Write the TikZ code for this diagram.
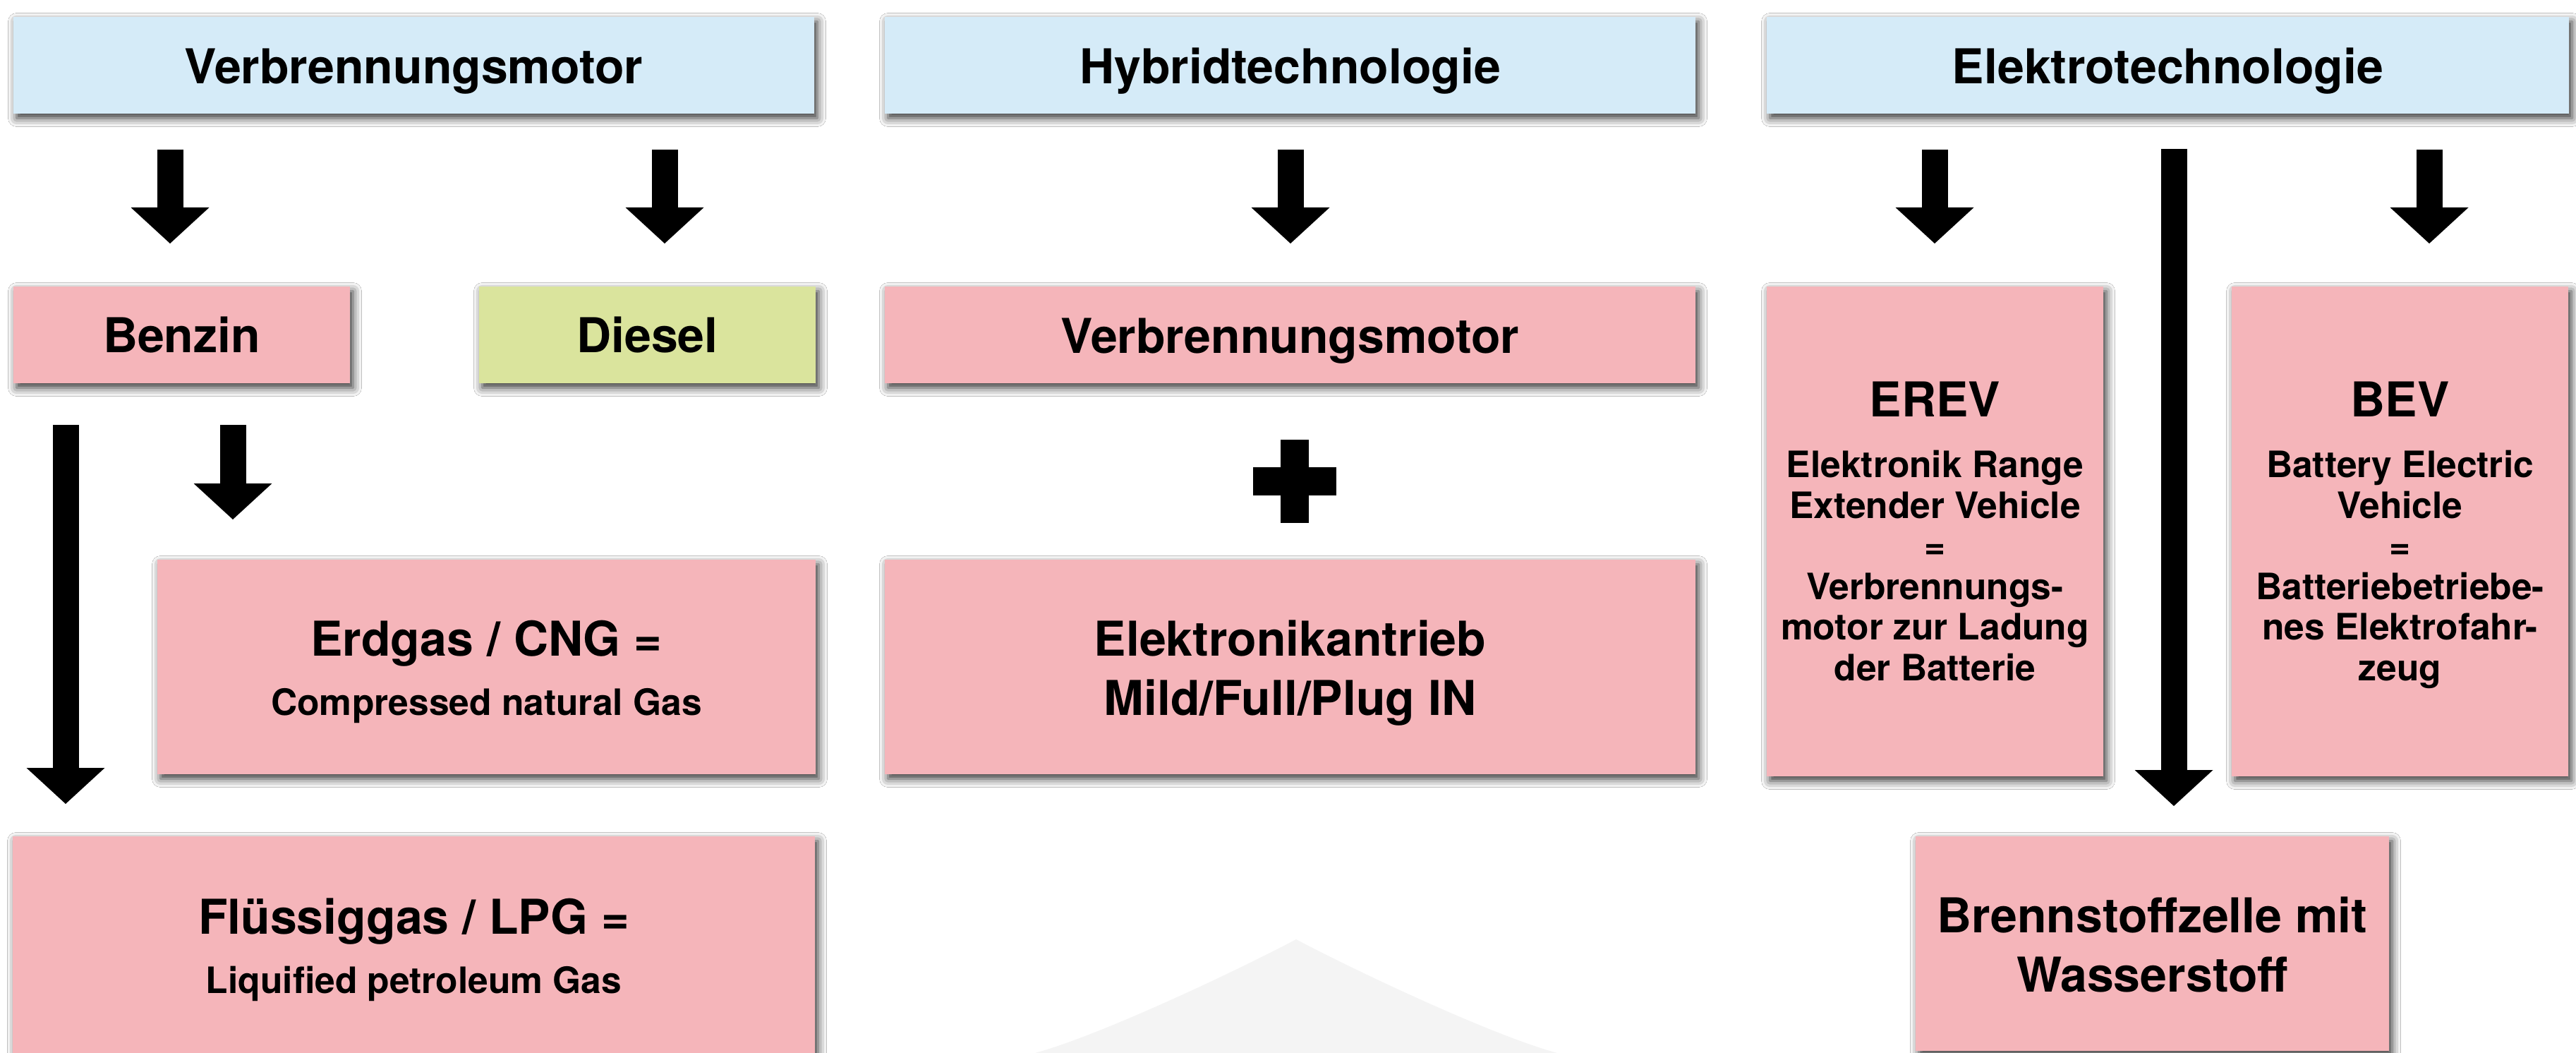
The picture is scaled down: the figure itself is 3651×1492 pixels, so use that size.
\documentclass[tikz,border=0pt]{standalone}
\usepackage{fontspec}
\setmainfont{TeX Gyre Heros}
\usetikzlibrary{arrows.meta,shadows.blur}
\definecolor{hdrblue}{RGB}{213,235,248}
\definecolor{boxpink}{RGB}{245,181,186}
\definecolor{boxgreen}{RGB}{218,228,157}
\definecolor{archgray}{RGB}{244,244,244}
\tikzset{
  box/.style={draw=none, fill=#1, inner sep=0pt, outer sep=0pt,
    blur shadow={shadow xshift=0.9pt, shadow yshift=-1.3pt, shadow blur radius=2.4pt, shadow opacity=80}},
  bigtext/.style={anchor=base, inner sep=0pt, font=\bfseries\fontsize{13.6pt}{16pt}\selectfont},
  smalltext/.style={anchor=base, inner sep=0pt, font=\bfseries\fontsize{10.3pt}{12pt}\selectfont},
  blockarrow/.style={line width=7.4pt, line cap=butt,
    -{Triangle[width=22.2pt,length=10.2pt,line width=0pt]}},
}
\begin{document}
\begin{tikzpicture}[x=0.2pt,y=-0.2pt]
\useasboundingbox (0,0) rectangle (3651,1492);
\fill[white] (0,0) rectangle (3651,1492);
% faint background arch
\fill[archgray] (1467,1492) .. controls (1560,1467) and (1760,1372) .. (1837,1331)
  .. controls (1914,1372) and (2114,1467) .. (2207,1492) -- cycle;

% boxes
\node[box=hdrblue, minimum width=227pt, minimum height=27.4pt] (hdr1) at (586.5,92.5) {};
\node[box=hdrblue, minimum width=229.8pt, minimum height=27.4pt] (hdr2) at (1828.5,92.5) {};
\node[box=hdrblue, minimum width=227.4pt, minimum height=27.4pt] (hdr3) at (3072.5,92.5) {};
\node[box=boxpink, minimum width=95.4pt, minimum height=27.4pt] (benzin) at (257.5,474.5) {};
\node[box=boxgreen, minimum width=95.4pt, minimum height=27.4pt] (diesel) at (917.5,474.5) {};
\node[box=boxpink, minimum width=229.8pt, minimum height=27.4pt] (hvm) at (1828.5,474.5) {};
\node[box=boxpink, minimum width=186.6pt, minimum height=60.8pt] (erdgas) at (689.5,945) {};
\node[box=boxpink, minimum width=229.8pt, minimum height=60.8pt] (eantrieb) at (1828.5,945) {};
\node[box=boxpink, minimum width=95.4pt, minimum height=138.8pt] (erev) at (2742.5,753) {};
\node[box=boxpink, minimum width=95.4pt, minimum height=138.8pt] (bev) at (3401.5,753) {};
\node[box=boxpink, minimum width=227.4pt, minimum height=61.4pt] (lpg) at (586.5,1338.5) {};
\node[box=boxpink, minimum width=134.2pt, minimum height=60.8pt] (brenn) at (3050.5,1337) {};

% texts
\node[bigtext] (th1) at (586.5,119) {Verbrennungsmotor};
\node[bigtext] (th2) at (1828.5,119) {Hybridtechnologie};
\node[bigtext] (th3) at (3072.5,119) {Elektrotechnologie};
\node[bigtext] (tbenzin) at (257.5,499) {Benzin};
\node[bigtext] (tdiesel) at (917.5,499) {Diesel};
\node[bigtext] (thvm) at (1828.5,500) {Verbrennungsmotor};
\node[bigtext] (terd1) at (689.5,929) {Erdgas / CNG =};
\node[smalltext] (terd2) at (689.5,1013) {Compressed natural Gas};
\node[bigtext] (tea1) at (1828.5,929) {Elektronikantrieb};
\node[bigtext] (tea2) at (1828.5,1013) {Mild/Full/Plug IN};
\node[bigtext] (tlpg1) at (586.5,1323) {Flüssiggas / LPG =};
\node[smalltext] (tlpg2) at (586.5,1407) {Liquified petroleum Gas};
\node[bigtext] (tbr1) at (3050.5,1321) {Brennstoffzelle mit};
\node[bigtext] (tbr2) at (3050.5,1405) {Wasserstoff};

\node[bigtext] (terev0) at (2742.5,590) {EREV};
\node[smalltext] (terev1) at (2742.5,676) {Elektronik Range};
\node[smalltext] (terev2) at (2742.5,734) {Extender Vehicle};
\node[smalltext] (terev3) at (2742.5,791) {=};
\node[smalltext] (terev4) at (2742.5,849) {Verbrennungs-};
\node[smalltext] (terev5) at (2742.5,906) {motor zur Ladung};
\node[smalltext] (terev6) at (2742.5,964) {der Batterie};

\node[bigtext] (tbev0) at (3401.5,590) {BEV};
\node[smalltext] (tbev1) at (3401.5,676) {Battery Electric};
\node[smalltext] (tbev2) at (3401.5,734) {Vehicle};
\node[smalltext] (tbev3) at (3401.5,791) {=};
\node[smalltext] (tbev4) at (3401.5,849) {Batteriebetriebe-};
\node[smalltext] (tbev5) at (3401.5,906) {nes Elektrofahr-};
\node[smalltext] (tbev6) at (3401.5,964) {zeug};

% arrow end points
\coordinate (a1s) at (241,212);  \coordinate (a1e) at (241,345);
\coordinate (a2s) at (942,212);  \coordinate (a2e) at (942,345);
\coordinate (a3s) at (1829,212); \coordinate (a3e) at (1829,345);
\coordinate (a4s) at (2742,212); \coordinate (a4e) at (2742,345);
\coordinate (a5s) at (3081,211); \coordinate (a5e) at (3081,1142);
\coordinate (a6s) at (3443,212); \coordinate (a6e) at (3443,345);
\coordinate (a7s) at (93,602);   \coordinate (a7e) at (93,1139);
\coordinate (a8s) at (330,602);  \coordinate (a8e) at (330,736);

\foreach \i in {1,...,8} \draw[blockarrow] (a\i s) -- (a\i e);

% plus sign
\fill (1815,623) rectangle (1855,741);
\fill (1776,662) rectangle (1894,702);
\end{tikzpicture}
\end{document}
